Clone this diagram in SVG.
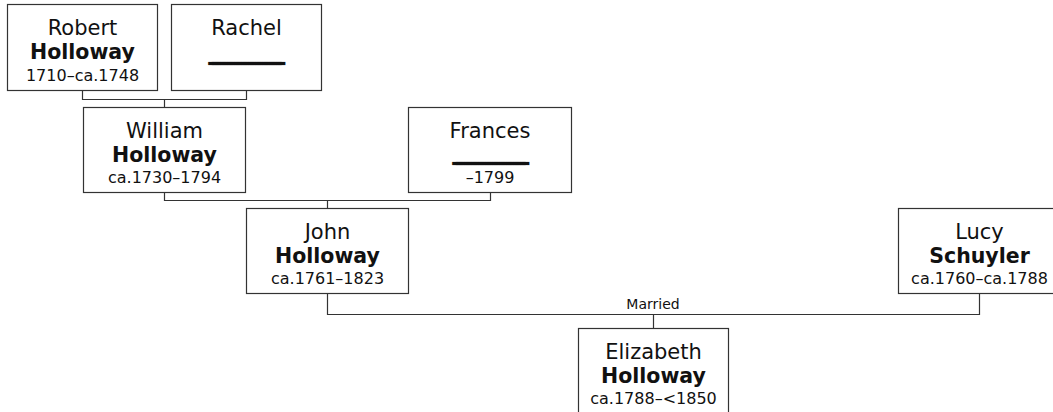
<svg xmlns="http://www.w3.org/2000/svg" width="1053" height="412" viewBox="0 0 1053 412">
<style>
  .box { fill: #ffffff; stroke: #333333; stroke-width: 1.2; }
  .conn { fill: none; stroke: #333333; stroke-width: 1.2; }
  text { font-family: "DejaVu Sans", Verdana, "Liberation Sans", sans-serif; fill: #111111; text-anchor: middle; }
  .given { font-size: 21px; }
  .sur { font-size: 20.5px; font-weight: bold; }
  .date { font-size: 16px; }
  .blank { font-size: 10px; font-weight: bold; stroke: #111111; stroke-width: 2.2; letter-spacing: -1.5px; }
  .lbl { font-size: 14px; }
</style>
<rect width="1053" height="412" fill="#ffffff"/>
<g id="connectors">
  <path class="conn" d="M82.5,90.5 V99.5 H246.5 V90.5 M164.5,99.5 V107.5"/>
  <path class="conn" d="M164.5,192.5 V200.5 H490.5 V192.5 M327.5,200.5 V208.5"/>
  <path class="conn" d="M327.5,293.5 V314.5 H979.5 V293.5 M653.5,314.5 V328.5"/>
  <text class="lbl" x="653" y="309">Married</text>
</g>
<g id="robert">
  <rect class="box" x="7.5" y="4.5" width="150" height="86"/>
  <text class="given" x="82.5" y="34.5">Robert</text>
  <text class="sur" x="82.5" y="58.5">Holloway</text>
  <text class="date" x="82.5" y="80.5">1710–ca.1748</text>
</g>
<g id="rachel">
  <rect class="box" x="171.5" y="4.5" width="150" height="86"/>
  <text class="given" x="246.5" y="34.5">Rachel</text>
  <text class="blank" x="246" y="61">_____________________</text>
</g>
<g id="william">
  <rect class="box" x="83.5" y="107.5" width="162" height="85"/>
  <text class="given" x="164.5" y="137.5">William</text>
  <text class="sur" x="164.5" y="161.5">Holloway</text>
  <text class="date" x="164.5" y="183">ca.1730–1794</text>
</g>
<g id="frances">
  <rect class="box" x="408.5" y="107.5" width="163" height="85"/>
  <text class="given" x="490" y="137.5">Frances</text>
  <text class="blank" x="490" y="161">_____________________</text>
  <text class="date" x="490" y="183">–1799</text>
</g>
<g id="john">
  <rect class="box" x="246.5" y="208.5" width="162" height="85"/>
  <text class="given" x="327.5" y="238.5">John</text>
  <text class="sur" x="327.5" y="262.5">Holloway</text>
  <text class="date" x="327.5" y="284">ca.1761–1823</text>
</g>
<g id="lucy">
  <rect class="box" x="898.5" y="208.5" width="162" height="85"/>
  <text class="given" x="979.5" y="238.5">Lucy</text>
  <text class="sur" x="979.5" y="262.5">Schuyler</text>
  <text class="date" x="979.5" y="284">ca.1760–ca.1788</text>
</g>
<g id="elizabeth">
  <rect class="box" x="578.5" y="328.5" width="150" height="86"/>
  <text class="given" x="653.5" y="358.5">Elizabeth</text>
  <text class="sur" x="653.5" y="382.5">Holloway</text>
  <text class="date" x="653.5" y="404">ca.1788–&lt;1850</text>
</g>
</svg>
